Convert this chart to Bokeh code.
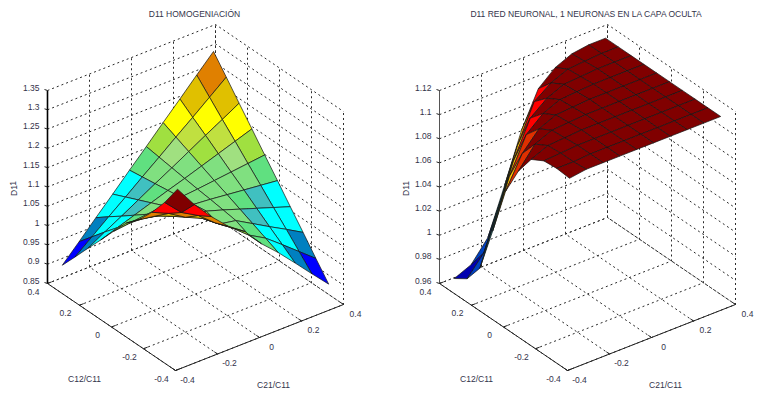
from bokeh.plotting import figure
from bokeh.layouts import row
from bokeh.models import Range1d
from bokeh.core.properties import value
from bokeh.embed import file_html
from bokeh.resources import INLINE

# ---------- data ----------
NODES = [-0.36, -0.28, -0.20, -0.12, -0.04, 0.04, 0.12, 0.20, 0.28, 0.36]
XY_TICKS = [-0.4, -0.2, 0, 0.2, 0.4]
XY_LABELS = ["-0.4", "-0.2", "0", "0.2", "0.4"]

Z_TICKS_LEFT = [0.85, 0.9, 0.95, 1.0, 1.05, 1.1, 1.15, 1.2, 1.25, 1.3, 1.35]
Z_LABELS_LEFT = ["0.85", "0.9", "0.95", "1", "1.05", "1.1", "1.15", "1.2", "1.25", "1.3", "1.35"]
Z_TICKS_RIGHT = [0.96, 0.98, 1.0, 1.02, 1.04, 1.06, 1.08, 1.1, 1.12]
Z_LABELS_RIGHT = ["0.96", "0.98", "1", "1.02", "1.04", "1.06", "1.08", "1.1", "1.12"]

# Z[i][j]: i indexes C21/C11, j indexes C12/C11
Z_LEFT = [
    [1.300, 1.243, 1.195, 1.153, 1.122, 1.078, 1.033, 0.989, 0.944, 0.900],
    [1.243, 1.200, 1.175, 1.146, 1.117, 1.083, 1.048, 1.014, 0.979, 0.944],
    [1.195, 1.175, 1.148, 1.128, 1.107, 1.088, 1.063, 1.038, 1.014, 0.989],
    [1.153, 1.139, 1.128, 1.112, 1.107, 1.093, 1.078, 1.063, 1.048, 1.033],
    [1.122, 1.109, 1.096, 1.107, 1.102, 1.098, 1.093, 1.088, 1.083, 1.078],
    [1.073, 1.073, 1.088, 1.093, 1.098, 1.102, 1.107, 1.112, 1.117, 1.122],
    [1.033, 1.048, 1.063, 1.078, 1.093, 1.107, 1.122, 1.137, 1.152, 1.167],
    [0.989, 1.014, 1.038, 1.063, 1.088, 1.112, 1.137, 1.162, 1.186, 1.211],
    [0.944, 0.979, 1.014, 1.048, 1.083, 1.117, 1.152, 1.186, 1.221, 1.256],
    [0.900, 0.944, 0.989, 1.033, 1.078, 1.122, 1.167, 1.211, 1.256, 1.300],
]
Z_RIGHT = [
    [1.113, 1.114, 1.113, 1.107, 1.090, 1.066, 1.026, 0.988, 0.972, 0.965],
    [1.115, 1.114, 1.114, 1.113, 1.107, 1.092, 1.066, 1.026, 0.988, 0.971],
    [1.115, 1.115, 1.115, 1.114, 1.113, 1.107, 1.095, 1.066, 1.026, 0.988],
    [1.115, 1.115, 1.115, 1.115, 1.114, 1.113, 1.107, 1.096, 1.066, 1.026],
    [1.115, 1.115, 1.115, 1.115, 1.115, 1.114, 1.113, 1.107, 1.097, 1.066],
    [1.115, 1.115, 1.115, 1.115, 1.115, 1.115, 1.114, 1.113, 1.107, 1.095],
    [1.115, 1.115, 1.115, 1.115, 1.115, 1.115, 1.115, 1.114, 1.113, 1.107],
    [1.115, 1.115, 1.115, 1.115, 1.115, 1.115, 1.115, 1.115, 1.114, 1.113],
    [1.115, 1.115, 1.115, 1.115, 1.115, 1.115, 1.115, 1.115, 1.115, 1.115],
    [1.115, 1.115, 1.115, 1.115, 1.115, 1.115, 1.115, 1.115, 1.115, 1.115],
]

# ---------- colour bands (lower bound of band, colour) ----------
BANDS_LEFT = [
    (1.28, "#800000"), (1.23, "#ff0000"), (1.19, "#e08000"), (1.17, "#e0c000"),
    (1.145, "#ffff00"), (1.13, "#c0e040"), (1.115, "#a0e040"), (1.11, "#a0e080"),
    (1.085, "#80e080"), (1.07, "#60e080"), (1.055, "#40c0c0"), (1.0, "#00ffff"),
    (0.96, "#0080c0"), (0.0, "#0000ff"),
]
BANDS_RIGHT = [
    (1.103, "#800000"), (1.094, "#ff0000"), (1.088, "#e03000"), (1.075, "#ff8000"),
    (1.055, "#ffc000"), (1.04, "#60e080"), (1.01, "#40c0c0"), (0.995, "#0080c0"),
    (0.975, "#0040c0"), (0.0, "#0000b0"),
]

FONT = value("Liberation Sans")
INK = "#33334a"
FS = value("8.5px")


def colour(z, bands):
    for low, c in bands:
        if z >= low:
            return c
    return bands[-1][1]


def panel(x_start, x_end, dx, z_values, z_ticks, z_labels, bands, title, axis_width, axis_color):
    zmin, zmax = z_ticks[0], z_ticks[-1]

    def project(a, b, z):
        u, v = (a + 0.4) / 0.8, (b + 0.4) / 0.8
        return (dx + 175 + 168 * u - 128 * v,
                370 - 66 * u - 87 * v - 193 * (z - zmin) / (zmax - zmin))

    p = figure(width=x_end - x_start, height=392, x_range=Range1d(x_start, x_end),
               y_range=Range1d(392, 0), x_axis_type=None, y_axis_type=None,
               toolbar_location=None, output_backend="svg", min_border=0,
               outline_line_color=None, background_fill_color="white")
    p.grid.visible = False

    # dotted grid on floor and the two back walls
    gx, gy = [], []
    for t in XY_TICKS:
        for pts in ([(t, -0.4, zmin), (t, 0.4, zmin), (t, 0.4, zmax)],
                    [(-0.4, t, zmin), (0.4, t, zmin), (0.4, t, zmax)]):
            q = [project(*c) for c in pts]
            gx.append([c[0] for c in q])
            gy.append([c[1] for c in q])
    for z in z_ticks:
        q = [project(*c) for c in [(-0.4, 0.4, z), (0.4, 0.4, z), (0.4, -0.4, z)]]
        gx.append([c[0] for c in q])
        gy.append([c[1] for c in q])
    p.multi_line(gx, gy, line_color="#2a2a2a", line_width=1, line_dash="2 3")

    # surface: far cells first, each cell coloured by its first corner
    xs, ys, cs = [], [], []
    n = len(NODES)
    for i in range(n - 2, -1, -1):
        for j in range(n - 2, -1, -1):
            q = [project(NODES[k], NODES[m], z_values[k][m])
                 for k, m in ((i, j), (i + 1, j), (i + 1, j + 1), (i, j + 1))]
            xs.append([c[0] for c in q])
            ys.append([c[1] for c in q])
            cs.append(colour(z_values[i][j], bands))
    p.patches(xs, ys, fill_color=cs, line_color="#141414", line_width=0.7)

    # solid axes
    q = [project(*c) for c in [(-0.4, 0.4, zmax), (-0.4, 0.4, zmin)]]
    p.line([c[0] for c in q], [c[1] for c in q], line_color=axis_color, line_width=axis_width)
    q = [project(*c) for c in [(-0.4, 0.4, zmin), (-0.4, -0.4, zmin), (0.4, -0.4, zmin)]]
    p.line([c[0] for c in q], [c[1] for c in q], line_color="#222222", line_width=1)

    # tick marks and tick labels
    tx, ty = [], []
    for z in z_ticks:
        x, y = project(-0.4, 0.4, z)
        tx.append([x - 3, x])
        ty.append([y - 1, y])
    for t in XY_TICKS:
        x, y = project(t, -0.4, zmin)
        x2, y2 = project(t, -0.38, zmin)
        tx.append([x, x2])
        ty.append([y, y2])
        x, y = project(-0.4, t, zmin)
        x2, y2 = project(-0.38, t, zmin)
        tx.append([x, x2])
        ty.append([y, y2])
    p.multi_line(tx, ty, line_color="#222222", line_width=1)

    kw = dict(text_font=FONT, text_font_size=FS, text_color=INK, text_baseline="middle")
    zx = [project(-0.4, 0.4, z)[0] - 8 for z in z_ticks]
    zy = [project(-0.4, 0.4, z)[1] - 3 for z in z_ticks]
    p.text(zx, zy, text=z_labels, text_align="right", **kw)
    bx = [project(-0.4, t, zmin)[0] - 14 for t in XY_TICKS]
    by = [project(-0.4, t, zmin)[1] + 8 for t in XY_TICKS]
    p.text(bx, by, text=XY_LABELS, text_align="center", **kw)
    ax_ = [project(t, -0.4, zmin)[0] + 12 for t in XY_TICKS]
    ay_ = [project(t, -0.4, zmin)[1] + 9 for t in XY_TICKS]
    p.text(ax_, ay_, text=XY_LABELS, text_align="center", **kw)

    # axis names and title
    p.text([dx + 84], [378], text=["C12/C11"], text_align="center", **kw)
    p.text([dx + 273], [384], text=["C21/C11"], text_align="center", **kw)
    p.text([dx + 13], [188], text=["D11"], text_align="center", angle=1.5708, **kw)
    p.text([dx + 194], [13], text=[title], text_align="center", **kw)
    return p


left = panel(0, 382, 0, Z_LEFT, Z_TICKS_LEFT, Z_LABELS_LEFT, BANDS_LEFT,
             "D11 HOMOGENIACIÓN", 1.6, "#000000")
right = panel(382, 764, 392, Z_RIGHT, Z_TICKS_RIGHT, Z_LABELS_RIGHT, BANDS_RIGHT,
              "D11 RED NEURONAL, 1 NEURONAS EN LA CAPA OCULTA", 1, "#555555")

layout = row(left, right, spacing=0)
open("out.html", "w").write(file_html(layout, INLINE))
